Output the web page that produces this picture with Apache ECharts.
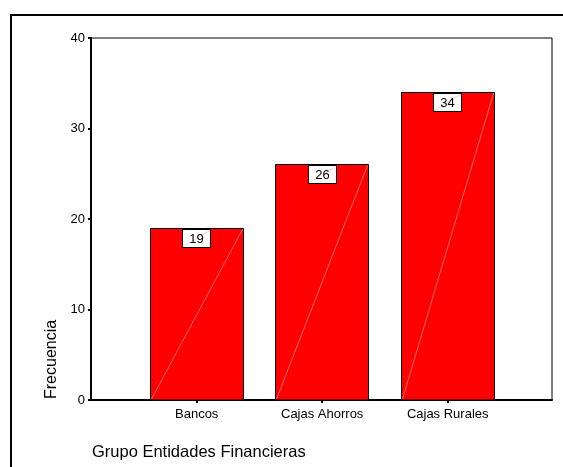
<!DOCTYPE html>
<html>
<head>
<meta charset="utf-8">
<script src="https://cdn.jsdelivr.net/npm/echarts@6/dist/echarts.min.js"></script>
<style>
html,body{margin:0;padding:0;background:#fff;}
#c{width:563px;height:467px;}
</style>
</head>
<body>
<div id="c"></div>
<script>
var categories = ['Bancos', 'Cajas Ahorros', 'Cajas Rurales'];
var frecuencias = [19, 26, 34];
var yTicks = [0, 10, 20, 30, 40];
var xTitle = 'Grupo Entidades Financieras';
var yTitle = 'Frecuencia';

var FONT = '"Liberation Sans", Arial, sans-serif';
var positions = categories.map(function (c, i) { return i + 1; });
var seriesData = categories.map(function (c, i) { return [positions[i], frecuencias[i]]; });

function crisp(v) { return Math.round(v - 0.5) + 0.5; }

var chart = echarts.init(document.getElementById('c'), null, { renderer: 'canvas' });
chart.setOption({
  animation: false,
  backgroundColor: '#fff',
  grid: { left: 91, right: 11, top: 38, bottom: 67, show: true, borderColor: '#000', borderWidth: 1, backgroundColor: 'transparent' },
  xAxis: {
    type: 'value',
    min: 0.158,
    max: 3.831,
    axisLine: { show: true, lineStyle: { color: '#000', width: 2 } },
    axisTick: { show: true, customValues: positions, length: 3, lineStyle: { color: '#000', width: 2 } },
    axisLabel: {
      customValues: positions,
      color: '#000', fontSize: 13, fontFamily: FONT, margin: 8,
      formatter: function (v) { return categories[Math.round(v) - 1] || ''; }
    },
    splitLine: { show: false }
  },
  yAxis: {
    type: 'value',
    min: yTicks[0],
    max: yTicks[yTicks.length - 1],
    interval: yTicks[1] - yTicks[0],
    axisLine: { show: true, lineStyle: { color: '#000', width: 2 } },
    axisTick: { show: true, length: 3, lineStyle: { color: '#000', width: 2 } },
    axisLabel: { color: '#000', fontSize: 13, fontFamily: FONT, margin: 6 },
    splitLine: { show: false }
  },
  graphic: [
    { type: 'line', shape: { x1: 10, y1: 15, x2: 563, y2: 15 }, style: { stroke: '#000', lineWidth: 2 } },
    { type: 'line', shape: { x1: 11, y1: 14, x2: 11, y2: 467 }, style: { stroke: '#000', lineWidth: 2 } },
    { type: 'text', left: 92, top: 444, style: { text: xTitle, font: '16.5px ' + FONT, fill: '#000' } },
    { type: 'text', x: 44, y: 399, rotation: Math.PI / 2, style: { text: yTitle, font: '16px ' + FONT, fill: '#000', textAlign: 'left', textVerticalAlign: 'top' } }
  ],
  series: [{
    type: 'custom',
    data: seriesData,
    z: 5,
    renderItem: function (params, api) {
      var x = api.value(0), v = api.value(1);
      var top = api.coord([x, v]);
      var base = api.coord([x, 0]);
      var w = api.size([1, 0])[0] * 0.741;
      var x0 = crisp(top[0] - w / 2), x1 = crisp(top[0] + w / 2);
      var y0 = crisp(top[1]), y1 = base[1];
      var bw = 28, bh = 18;
      var bx = crisp(top[0] - bw / 2), by = y0 + 1;
      return {
        type: 'group',
        children: [
          { type: 'rect', shape: { x: x0, y: y0, width: x1 - x0, height: y1 - y0 }, style: { fill: '#ff0000', stroke: '#000', lineWidth: 1 } },
          { type: 'line', shape: { x1: x0 + 1, y1: y1 - 1, x2: x1 - 1, y2: y0 + 1 }, style: { stroke: '#ff9a9a', lineWidth: 0.7 } },
          { type: 'rect', shape: { x: bx, y: by, width: bw, height: bh }, style: { fill: '#fff', stroke: '#000', lineWidth: 1 } },
          { type: 'line', shape: { x1: bx + 1, y1: by + bh - 1, x2: bx + bw - 1, y2: by + 1 }, style: { stroke: '#ffc0c0', lineWidth: 0.7 } },
          { type: 'text', style: { x: bx + bw / 2, y: by + bh / 2 + 1, text: String(v), font: '13px ' + FONT, fill: '#000', textAlign: 'center', textVerticalAlign: 'middle' } }
        ]
      };
    }
  }]
});
</script>
</body>
</html>
